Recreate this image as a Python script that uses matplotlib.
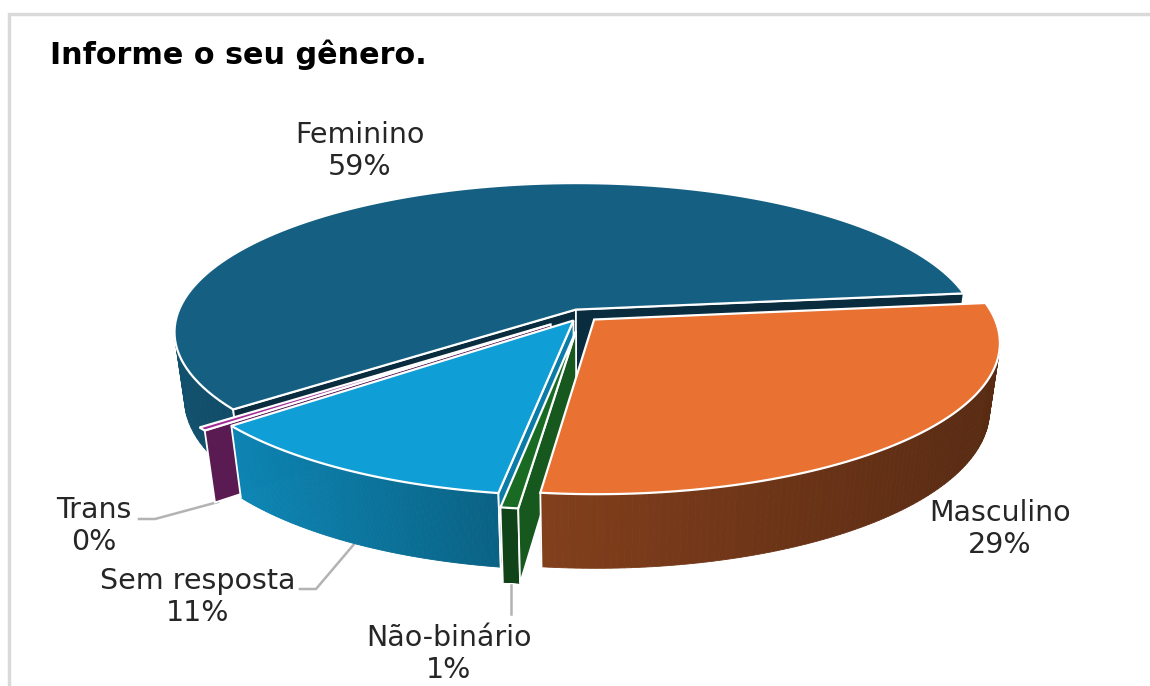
import numpy as np
import matplotlib
matplotlib.use('Agg')
import matplotlib.pyplot as plt

# dados do gráfico
categorias = ['Feminino', 'Masculino', 'Não-binário', 'Sem resposta', 'Trans']
valores = [58.9, 28.7, 0.6, 11.45, 0.35]

# estilo de cada fatia
cores = ['#156082', '#E97132', '#196B24', '#0F9ED5', '#A02B93']
explosao = [0.04, 0.043, 0.107, 0.043, 0.1]
sombra_ini = [0.84, 0.56, 0.63, 0.85, 0.56]
sombra_fim = [0.80, 0.38, 0.63, 0.62, 0.56]
cor_lado = ['#0A2C3F', '#5A2A12', '#17581E', '#0B7CA8', '#5A1B52']
lados = [(True, True), (False, False), (True, False), (True, False), (True, False)]
parede_externa = [True, True, True, True, False]
ordem = [0, 4, 3, 2, 1]

pos_rotulo = [(360, 151), (1000, 529), (449, 654), (198, 597), (94, 526)]
linhas_guia = [
    [(139, 519), (155, 519), (218, 502)],
    [(300, 589), (316, 589), (355, 543)],
    [(511, 585), (511, 614)],
]

# geometria da pizza em perspectiva
CX, CY = 582, 315
RX, RY = 399, 147
ALTURA = 69
K, M = 0.15, 0.025
ANG_INICIAL = 6.5


def proj(u, v, z=0):
    p = 1 / (1 - K * v + M * z)
    return CX + RX * u * p, CY + (RY * v + ALTURA * z) * p


def misturar(cor, f):
    return tuple(c * f for c in matplotlib.colors.to_rgb(cor))


fig = plt.figure(figsize=(11.5, 6.86), dpi=100)
ax = fig.add_axes([0, 0, 1, 1])
ax.set_xlim(0, 1150)
ax.set_ylim(686, 0)
ax.axis('off')

# moldura do gráfico
ax.plot([9, 9, 1150], [686, 14, 14], color='#D9D9D9', lw=2.5, solid_joinstyle='miter')

# ângulos das fatias: Feminino passa pelo topo, as outras seguem no sentido horário
total = sum(valores)
faixas = [(ANG_INICIAL + valores[0] / total * 360, ANG_INICIAL)]
a0 = ANG_INICIAL
for v in valores[1:]:
    a1 = a0 - v / total * 360
    faixas.append((a0, a1))
    a0 = a1

for i in ordem:
    ini, fi = faixas[i]
    meio = np.radians((ini + fi) / 2)
    du, dv = explosao[i] * np.cos(meio), -explosao[i] * np.sin(meio)
    ang = np.radians(np.linspace(ini, fi, 120))
    us, vs = du + np.cos(ang), dv - np.sin(ang)

    # parede externa com degradê
    tx, ty = proj(us, vs, 0)
    bx, by = proj(us, vs, 1)
    if parede_externa[i]:
        visivel = vs > 0
        xmin, xmax = tx[visivel].min(), tx[visivel].max()
        for j in range(len(ang) - 1):
            t = np.clip((tx[j] - xmin) / max(xmax - xmin, 1), 0, 1)
            c = misturar(cores[i], sombra_ini[i] + (sombra_fim[i] - sombra_ini[i]) * t)
            ax.fill([tx[j], tx[j + 1], bx[j + 1], bx[j]], [ty[j], ty[j + 1], by[j + 1], by[j]],
                    color=c, lw=0.6, zorder=2)
        ax.plot([tx[0], bx[0]], [ty[0], by[0]], color='white', lw=1.3, zorder=2)
        ax.plot([tx[-1], bx[-1]], [ty[-1], by[-1]], color='white', lw=1.3, zorder=2)

    # paredes internas (lados do corte)
    for k, mostra in enumerate(lados[i]):
        if not mostra:
            continue
        a = ang[0] if k == 0 else ang[-1]
        ru, rv = du + np.cos(a), dv - np.sin(a)
        q = [proj(du, dv, 0), proj(ru, rv, 0), proj(ru, rv, 1), proj(du, dv, 1)]
        ax.fill([p[0] for p in q], [p[1] for p in q], facecolor=cor_lado[i],
                edgecolor='white', lw=1.3, zorder=2)

    # tampo da fatia
    sx, sy = proj(us, vs, 0)
    ax0, ay0 = proj(du, dv, 0)
    ax.fill(np.r_[ax0, sx], np.r_[ay0, sy], facecolor=cores[i], edgecolor='white',
            lw=1.6, joinstyle='miter', zorder=2)

# rótulos
for nome, v, (x, y) in zip(categorias, valores, pos_rotulo):
    ax.text(x, y, f'{nome}\n{round(v)}%', ha='center', va='center', fontsize=20.5,
            family='DejaVu Sans', color='#262626', linespacing=1.2, zorder=5)

# linhas de chamada
for linha in linhas_guia:
    ax.plot([p[0] for p in linha], [p[1] for p in linha], color='#B3B3B3', lw=1.8, zorder=1)

ax.text(50, 55, 'Informe o seu gênero.', fontsize=21.8, family='DejaVu Sans', weight='bold',
        color='black', va='center', ha='left')

fig.savefig('out.png', dpi=100)
